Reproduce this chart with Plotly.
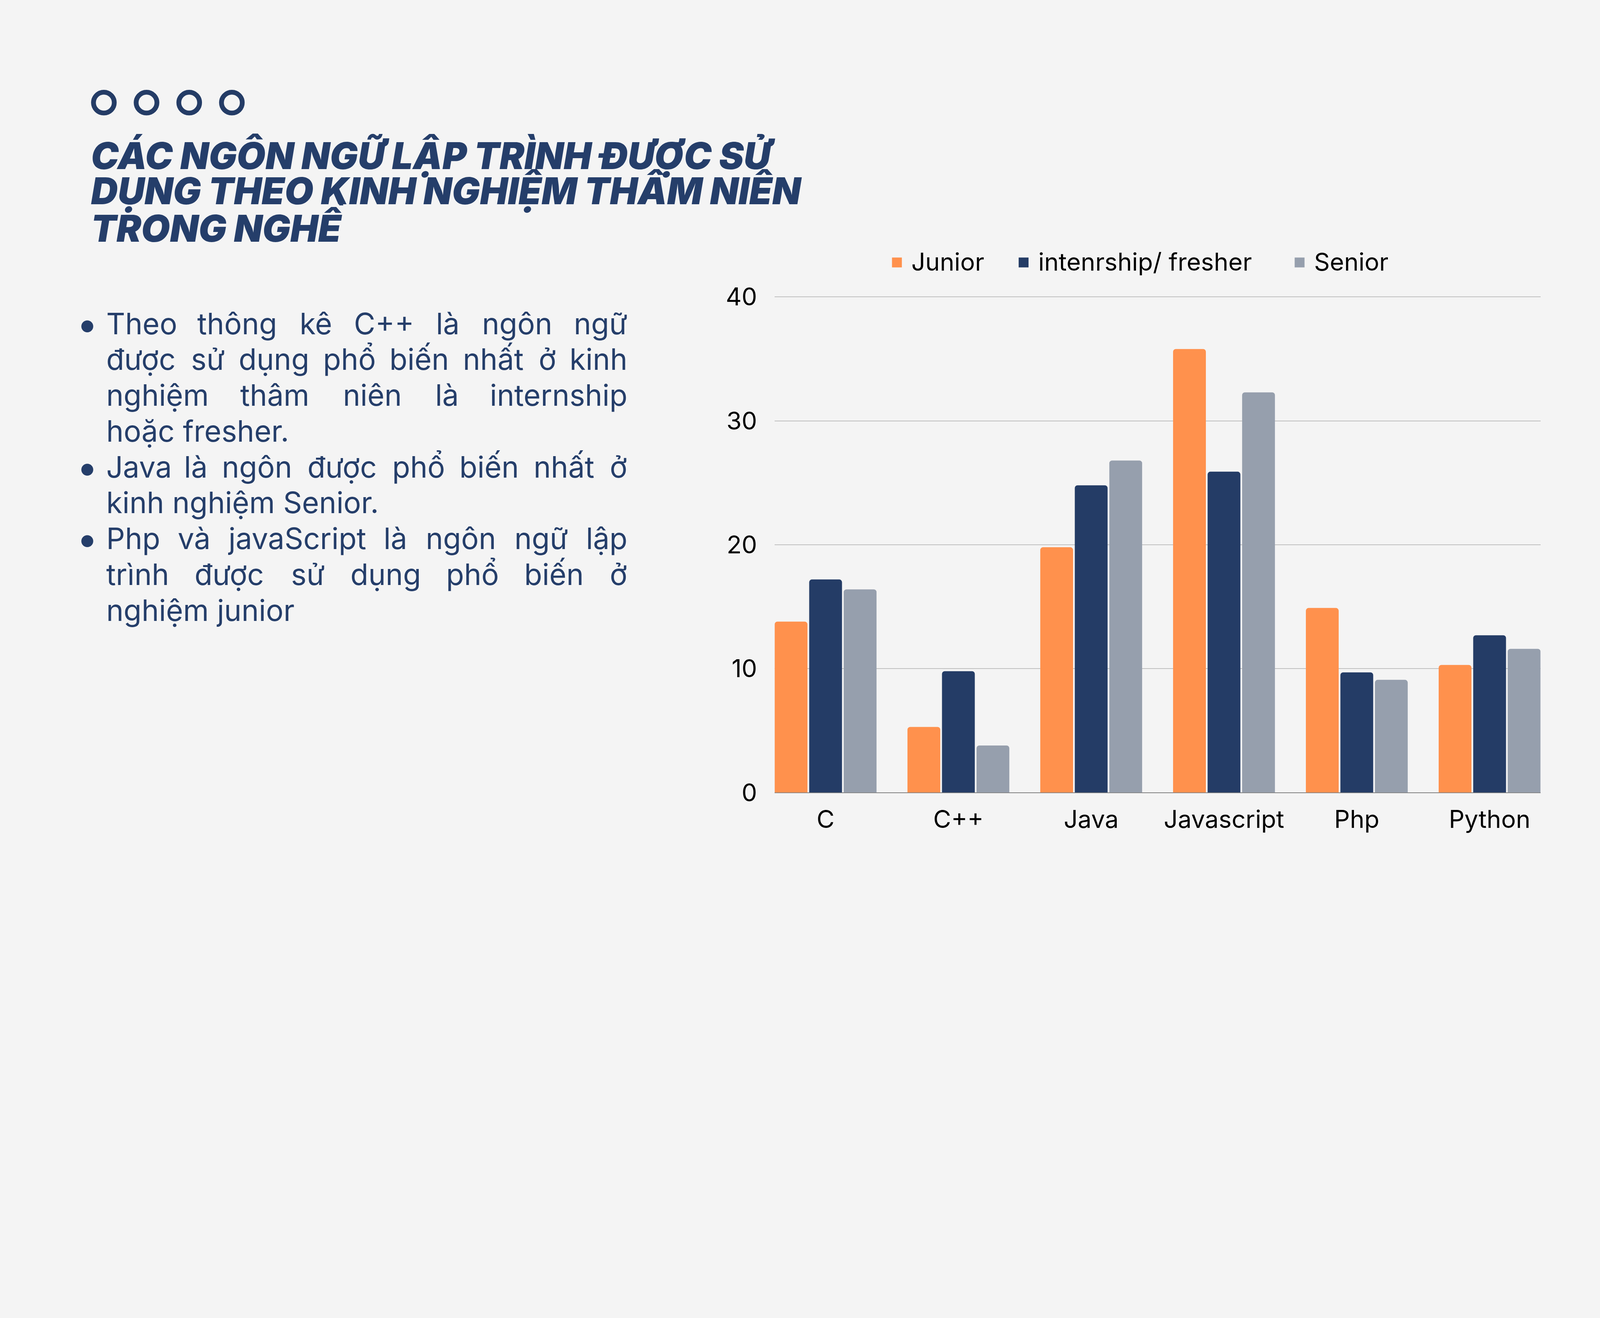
import unicodedata
import plotly.graph_objects as go

# ---------------- data ----------------
categories = ["C", "C++", "Java", "Javascript", "Php", "Python"]
junior = [13.8, 5.3, 19.8, 35.8, 14.9, 10.3]
intern_fresher = [17.2, 9.8, 24.8, 25.9, 9.7, 12.7]
senior = [16.4, 3.8, 26.8, 32.3, 9.1, 11.6]
series_names = ["Junior", "intenrship/ fresher", "Senior"]
y_ticks = [0, 10, 20, 30, 40]

title_lines = [
    "CÁC NGÔN NGỮ LẬP TRÌNH ĐƯỢC SỬ",
    "DỤNG THEO KINH NGHIỆM THÂM NIÊN",
    "TRONG NGHỀ",
]
# (text, justified, has_bullet)
body_lines = [
    ("Theo thông kê C++ là ngôn ngữ", True, True),
    ("được sử dụng phổ biến nhất ở kinh", True, False),
    ("nghiệm thâm niên là internship", True, False),
    ("hoặc fresher.", False, False),
    ("Java là ngôn được phổ biến nhất ở", True, True),
    ("kinh nghiệm Senior.", False, False),
    ("Php và javaScript là ngôn ngữ lập", True, True),
    ("trình được sử dụng phổ biến ở", True, False),
    ("nghiệm junior", False, False),
]

# ---------------- geometry ----------------
# Layout measured on the 6000x3375 reference; the browser viewport is 4096 px wide,
# so the figure is built at 4096x2304 (same 16:9 frame) and scaled by the page if needed.
REF_W, REF_H = 6000, 3375
FW, FH = 4096, 2304
S = FW / REF_W

BG = "#F4F4F4"
NAVY = "#243C66"
TEXT_NAVY = "#253E6A"
colors = ["#FF914D", "#243C66", "#969FAD"]
FONT = "Inter"
CHART_FS = 92 * S
BODY_FS = 110 * S
TITLE_FS = 139 * S


def px(x):
    return x / REF_W


def py(y):
    return 1 - y / REF_H


fig = go.Figure()
for name, vals, col in zip(series_names, [junior, intern_fresher, senior], colors):
    fig.add_trace(go.Bar(x=categories, y=vals, name=name, marker_color=col,
                         marker_line_width=0, showlegend=False))

annotations = []
shapes = []

# decorative rings
for cx in [389.5, 549.5, 709.5, 869.5]:
    r = 39
    shapes.append(dict(type="circle", xref="paper", yref="paper",
                       x0=px(cx - r), x1=px(cx + r), y0=py(385 + r), y1=py(385 - r),
                       line=dict(color=NAVY, width=18 * S), fillcolor="rgba(0,0,0,0)"))

# title (one annotation per line to keep the tight leading)
for i, t in enumerate(title_lines):
    baseline = 633 + 131 * i
    annotations.append(dict(text=t, xref="paper", yref="paper", x=px(338), y=py(baseline - 49),
                            xanchor="left", yanchor="middle", showarrow=False,
                            font=dict(family=FONT, size=TITLE_FS, color=TEXT_NAVY,
                                      weight=900, style="italic")))

# body text, justified by placing words
CW = {'a': 0.55, 'b': 0.60, 'c': 0.54, 'd': 0.60, 'e': 0.56, 'f': 0.34, 'g': 0.60, 'h': 0.58,
      'i': 0.24, 'j': 0.24, 'k': 0.52, 'l': 0.24, 'm': 0.87, 'n': 0.58, 'o': 0.58, 'p': 0.60,
      'q': 0.60, 'r': 0.37, 's': 0.51, 't': 0.35, 'u': 0.58, 'v': 0.53, 'w': 0.78, 'x': 0.51,
      'y': 0.53, 'z': 0.51, 'T': 0.62, 'C': 0.71, 'J': 0.52, 'P': 0.64, 'S': 0.62, '+': 0.62,
      '.': 0.27}


def est_width(word, size):
    total = 0.0
    for ch in word:
        base = "d" if ch in "đĐ" else unicodedata.normalize("NFD", ch)[0]
        w = CW.get(base, 0.56)
        if ch in "ưừứửữựơờớởỡợ":
            w += 0.05
        total += w
    return total * size


LEFT, RIGHT = 396, 2355
BODY_DEV = BODY_FS / S
for i, (line, just, bullet) in enumerate(body_lines):
    baseline = 1250 + 134.4 * i
    yc = py(baseline - 37)
    fnt = dict(family=FONT, size=BODY_FS, color=TEXT_NAVY)
    if bullet:
        annotations.append(dict(text="•", xref="paper", yref="paper", x=px(327), y=yc,
                                xanchor="center", yanchor="middle", showarrow=False,
                                font=dict(family=FONT, size=BODY_FS * 1.3, color=TEXT_NAVY)))
    if not just:
        annotations.append(dict(text=line, xref="paper", yref="paper", x=px(LEFT), y=yc,
                                xanchor="left", yanchor="middle", showarrow=False, font=fnt))
        continue
    words = line.split(" ")
    widths = [est_width(w, BODY_DEV) for w in words]
    gap = (RIGHT - LEFT - sum(widths)) / (len(words) - 1)
    xcur = LEFT
    for j, (wd, ww) in enumerate(zip(words, widths)):
        if j == 0:
            x, anc = LEFT, "left"
        elif j == len(words) - 1:
            x, anc = RIGHT, "right"
        else:
            x, anc = xcur + ww / 2, "center"
        annotations.append(dict(text=wd, xref="paper", yref="paper", x=px(x), y=yc,
                                xanchor=anc, yanchor="middle", showarrow=False, font=fnt))
        xcur += ww + gap

# legend with large square swatches
legend_x = [3345, 3820, 4855]
for name, col, lx in zip(series_names, colors, legend_x):
    shapes.append(dict(type="rect", xref="paper", yref="paper",
                       x0=px(lx), x1=px(lx + 37), y0=py(1003), y1=py(966),
                       line=dict(width=0), fillcolor=col))
    annotations.append(dict(text=name, xref="paper", yref="paper", x=px(lx + 70), y=py(981),
                            xanchor="left", yanchor="middle", showarrow=False,
                            font=dict(family=FONT, size=CHART_FS, color="#000000")))

YTOP = 40.05
PX_PER_UNIT = (2973 - 1114) / 40
fig.update_layout(
    width=FW, height=FH, autosize=False,
    margin=dict(l=0, r=0, t=0, b=0, pad=0, autoexpand=False),
    paper_bgcolor=BG, plot_bgcolor=BG,
    bargap=0.22, bargroupgap=0.05, barcornerradius=7,
    font=dict(family=FONT, size=CHART_FS, color="#000000"),
    annotations=annotations, shapes=shapes,
    xaxis=dict(domain=[px(2905), px(5777)], range=[-0.3835, 5.3835], type="category",
               automargin=False, showgrid=False, showline=False, ticks="",
               ticklabelstandoff=27,
               tickfont=dict(family=FONT, size=CHART_FS, color="#000000")),
    yaxis=dict(domain=[py(2973), py(2973 - YTOP * PX_PER_UNIT)], range=[0, YTOP],
               tickvals=y_ticks, automargin=False,
               showgrid=True, gridcolor="#BFBFBF", gridwidth=2,
               zeroline=True, zerolinecolor="#808080", zerolinewidth=2,
               showline=False, ticks="", ticklabelstandoff=44,
               tickfont=dict(family=FONT, size=CHART_FS, color="#000000")),
)

page_js = """
(function(){
  var gd = document.getElementById('{plot_id}');
  document.documentElement.style.background = '#F4F4F4';
  document.body.style.background = '#F4F4F4';
  document.body.style.margin = '0';
  document.body.style.overflow = 'hidden';
  var k = Math.min(window.innerWidth / %d, window.innerHeight / %d);
  if (Math.abs(k - 1) > 0.01) {
    gd.style.transformOrigin = '0 0';
    gd.style.transform = 'scale(' + k + ')';
  }
})();
""" % (FW, FH)

fig.write_html("out.html", post_script=page_js,
               config={"displayModeBar": False, "staticPlot": True})
